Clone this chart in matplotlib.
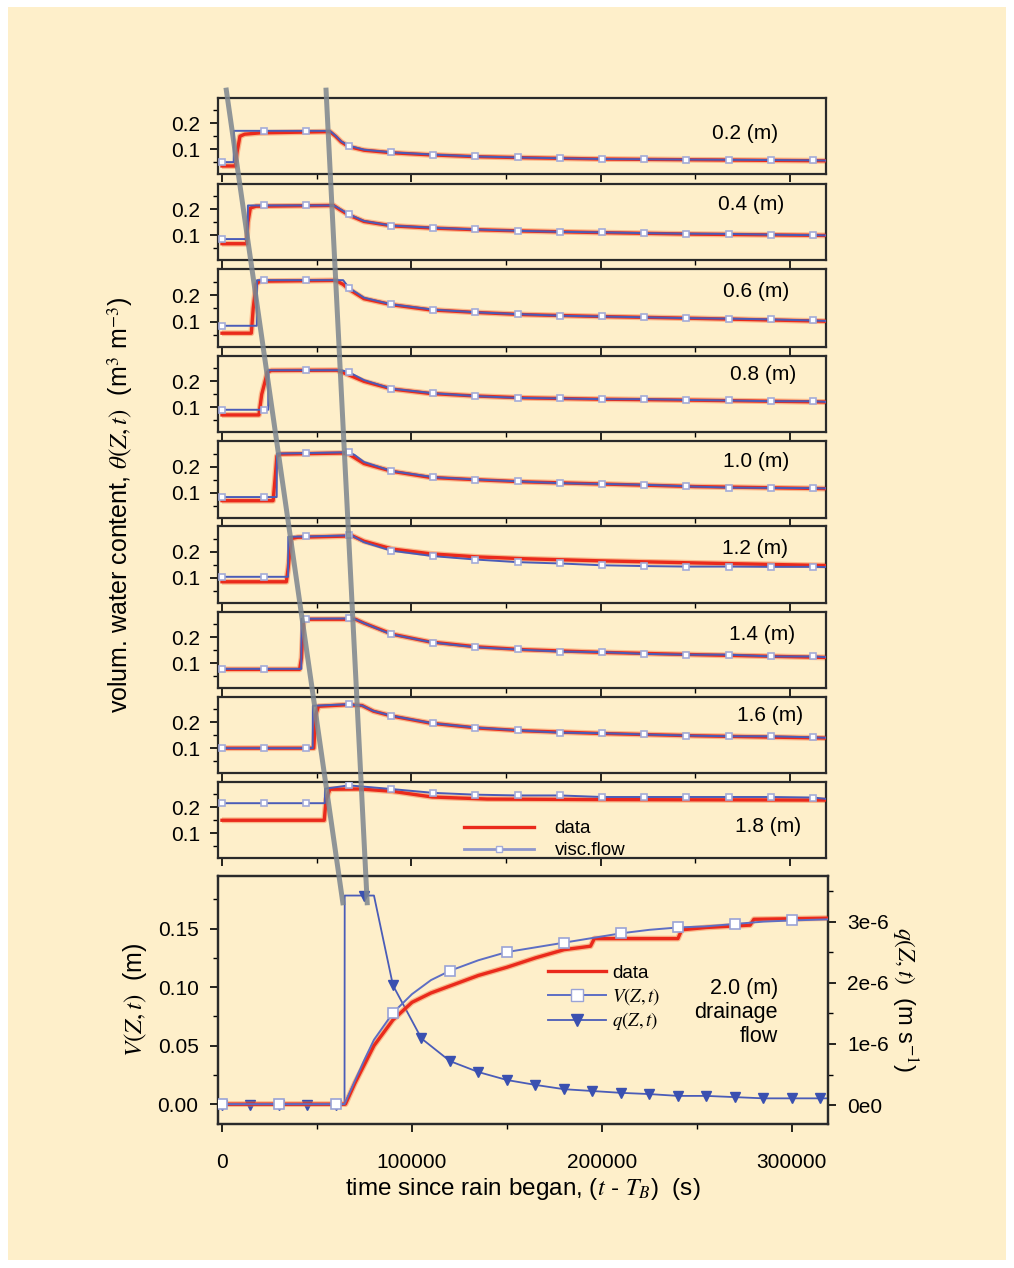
import matplotlib
matplotlib.use('Agg')
import matplotlib.pyplot as plt
from matplotlib.lines import Line2D
from matplotlib.patches import Rectangle
from matplotlib.ticker import MultipleLocator, FixedLocator, FuncFormatter

plt.rcParams['font.family'] = ['Liberation Sans', 'DejaVu Sans']
plt.rcParams['mathtext.fontset'] = 'stix'

# ---------------- data ----------------
depth_labels = ['0.2 (m)', '0.4 (m)', '0.6 (m)', '0.8 (m)', '1.0 (m)',
                '1.2 (m)', '1.4 (m)', '1.6 (m)', '1.8 (m)']

# times where the visc.flow markers sit
mark_t = [0, 22300, 44600, 66900, 89200, 111500, 133800, 156100, 178400,
          200700, 223000, 245300, 267600, 289900, 312200]

# visc.flow model, water content theta(Z,t)
model_t = [
    [0, 6200, 6300, 22300, 44600, 57000, 60000, 63000, 66900, 75000, 89200, 111500, 133800, 156100, 178400, 200700, 223000, 245300, 267600, 289900, 312200, 320000],
    [0, 13600, 13700, 22300, 44600, 59000, 62000, 66900, 75000, 89200, 111500, 133800, 156100, 178400, 200700, 223000, 245300, 267600, 289900, 312200, 320000],
    [0, 18400, 18500, 22300, 44600, 64000, 66900, 75000, 89200, 111500, 133800, 156100, 178400, 200700, 223000, 245300, 267600, 289900, 312200, 320000],
    [0, 22300, 24400, 24500, 44600, 63000, 66900, 75000, 89200, 111500, 133800, 156100, 178400, 200700, 223000, 245300, 267600, 289900, 312200, 320000],
    [0, 22300, 28900, 29000, 44600, 66900, 70000, 75000, 89200, 111500, 133800, 156100, 178400, 200700, 223000, 245300, 267600, 289900, 312200, 320000],
    [0, 22300, 34900, 35000, 44600, 66900, 69000, 75000, 89200, 111500, 133800, 156100, 178400, 200700, 223000, 245300, 267600, 289900, 312200, 320000],
    [0, 22300, 41900, 42000, 44600, 66900, 70500, 75000, 89200, 111500, 133800, 156100, 178400, 200700, 223000, 245300, 267600, 289900, 312200, 320000],
    [0, 22300, 44600, 47900, 48000, 66900, 74000, 80000, 89200, 111500, 133800, 156100, 178400, 200700, 223000, 245300, 267600, 289900, 312200, 320000],
    [0, 22300, 44600, 54300, 54400, 66900, 75000, 89200, 111500, 133800, 156100, 178400, 200700, 223000, 245300, 267600, 289900, 312200, 320000],
]
model_theta = [
    [0.050, 0.050, 0.171, 0.171, 0.171, 0.171, 0.152, 0.130, 0.114, 0.098, 0.088, 0.079, 0.072, 0.068, 0.065, 0.062, 0.061, 0.060, 0.059, 0.058, 0.057, 0.056],
    [0.085, 0.085, 0.215, 0.215, 0.215, 0.215, 0.203, 0.181, 0.155, 0.137, 0.129, 0.122, 0.117, 0.113, 0.111, 0.108, 0.106, 0.105, 0.102, 0.100, 0.099],
    [0.084, 0.084, 0.256, 0.256, 0.256, 0.256, 0.228, 0.190, 0.165, 0.145, 0.135, 0.128, 0.122, 0.119, 0.116, 0.113, 0.111, 0.108, 0.104, 0.102],
    [0.090, 0.090, 0.090, 0.243, 0.243, 0.243, 0.236, 0.205, 0.172, 0.154, 0.143, 0.136, 0.134, 0.131, 0.131, 0.128, 0.126, 0.123, 0.123, 0.120],
    [0.084, 0.084, 0.084, 0.250, 0.252, 0.255, 0.245, 0.218, 0.184, 0.160, 0.151, 0.144, 0.137, 0.134, 0.131, 0.125, 0.120, 0.119, 0.118, 0.117],
    [0.104, 0.104, 0.104, 0.257, 0.258, 0.262, 0.260, 0.236, 0.204, 0.183, 0.170, 0.160, 0.155, 0.148, 0.145, 0.143, 0.143, 0.142, 0.142, 0.141],
    [0.078, 0.078, 0.078, 0.272, 0.272, 0.273, 0.270, 0.255, 0.212, 0.180, 0.162, 0.153, 0.145, 0.143, 0.136, 0.133, 0.133, 0.126, 0.126, 0.123],
    [0.100, 0.100, 0.100, 0.100, 0.264, 0.270, 0.265, 0.244, 0.226, 0.196, 0.180, 0.169, 0.160, 0.158, 0.153, 0.149, 0.146, 0.146, 0.142, 0.140],
    [0.216, 0.216, 0.216, 0.216, 0.272, 0.285, 0.280, 0.271, 0.256, 0.249, 0.246, 0.246, 0.240, 0.240, 0.240, 0.240, 0.240, 0.238, 0.232],
]

# measured data, water content theta(Z,t)
data_t = [
    [0, 7000, 8000, 9500, 12000, 20000, 57000, 60000, 63000, 67000, 75000, 90000, 110000, 135000, 160000, 200000, 250000, 320000],
    [0, 13000, 13700, 15000, 18000, 59000, 62000, 67000, 75000, 90000, 110000, 135000, 160000, 200000, 250000, 320000],
    [0, 15500, 16500, 18000, 20000, 60000, 64000, 67000, 75000, 90000, 110000, 135000, 160000, 200000, 250000, 320000],
    [0, 19500, 21000, 24000, 26000, 60700, 66000, 75000, 90000, 110000, 135000, 160000, 200000, 250000, 320000],
    [0, 27000, 28000, 29000, 31000, 64000, 67000, 75000, 90000, 110000, 135000, 160000, 200000, 250000, 320000],
    [0, 34000, 35000, 36500, 40000, 69000, 75000, 90000, 110000, 135000, 160000, 200000, 250000, 320000],
    [0, 41000, 42000, 43000, 46000, 70500, 75000, 90000, 110000, 135000, 160000, 200000, 250000, 320000],
    [0, 48500, 49500, 51000, 66000, 74000, 80000, 90000, 110000, 135000, 160000, 200000, 250000, 320000],
    [0, 54000, 55000, 57000, 73000, 90000, 111000, 140000, 200000, 320000],
]
data_theta = [
    [0.035, 0.035, 0.090, 0.150, 0.158, 0.163, 0.168, 0.150, 0.128, 0.110, 0.096, 0.086, 0.078, 0.071, 0.067, 0.062, 0.059, 0.055],
    [0.067, 0.067, 0.150, 0.205, 0.212, 0.215, 0.200, 0.178, 0.153, 0.136, 0.128, 0.121, 0.116, 0.110, 0.104, 0.099],
    [0.056, 0.056, 0.150, 0.240, 0.252, 0.255, 0.240, 0.222, 0.186, 0.163, 0.144, 0.134, 0.126, 0.119, 0.112, 0.101],
    [0.070, 0.070, 0.150, 0.235, 0.242, 0.243, 0.228, 0.200, 0.170, 0.153, 0.143, 0.136, 0.131, 0.127, 0.120],
    [0.070, 0.070, 0.150, 0.240, 0.248, 0.252, 0.248, 0.212, 0.182, 0.159, 0.150, 0.142, 0.134, 0.124, 0.116],
    [0.085, 0.085, 0.140, 0.250, 0.255, 0.260, 0.240, 0.210, 0.192, 0.180, 0.173, 0.165, 0.157, 0.147],
    [0.076, 0.076, 0.120, 0.262, 0.270, 0.270, 0.255, 0.212, 0.182, 0.163, 0.152, 0.142, 0.133, 0.122],
    [0.100, 0.100, 0.230, 0.262, 0.268, 0.265, 0.243, 0.224, 0.197, 0.178, 0.167, 0.157, 0.148, 0.139],
    [0.150, 0.150, 0.230, 0.270, 0.271, 0.262, 0.240, 0.232, 0.230, 0.228],
]

# 2.0 m: cumulative drainage V(Z,t) and drainage flux q(Z,t)
v_model_t = [0, 30000, 60000, 64500, 70000, 75000, 80000, 90000, 100000, 110000, 120000, 135000, 150000,
             165000, 180000, 195000, 210000, 225000, 240000, 255000, 270000, 285000, 300000, 320000]
v_model = [0, 0, 0, 0, 0.020, 0.038, 0.055, 0.078, 0.094, 0.106, 0.114, 0.123, 0.130,
           0.134, 0.138, 0.142, 0.146, 0.149, 0.151, 0.152, 0.154, 0.156, 0.157, 0.158]
v_data_t = [0, 65000, 70000, 75000, 80000, 90000, 100000, 110000, 120000, 135000, 150000, 165000, 180000,
            194000, 196000, 240000, 242000, 255000, 278000, 280000, 320000]
v_data = [0, 0, 0.018, 0.034, 0.050, 0.072, 0.087, 0.095, 0.101, 0.110, 0.117, 0.125, 0.132,
          0.135, 0.1415, 0.1415, 0.149, 0.151, 0.153, 0.158, 0.159]
q_t = [0, 15000, 30000, 45000, 60000, 64500, 64600, 75000, 80000, 90000, 105000, 120000, 135000, 150000,
       165000, 180000, 195000, 210000, 225000, 240000, 255000, 270000, 285000, 300000, 315000, 320000]
q_flux = [0, 0, 0, 0, 0, 0, 3.43e-6, 3.43e-6, 3.43e-6, 1.96e-6, 1.09e-6, 0.72e-6, 0.54e-6, 0.41e-6,
          0.33e-6, 0.26e-6, 0.23e-6, 0.20e-6, 0.18e-6, 0.15e-6, 0.15e-6, 0.13e-6, 0.11e-6, 0.11e-6, 0.11e-6, 0.11e-6]

# grey front lines: (time at top of 0.2 m panel, time at top of drainage panel)
wetting_front_t = [2100, 63800]
drainage_front_t = [54900, 76500]

# ---------------- layout / style ----------------
W, H = 1014, 1268
cream = '#FEEFCA'
red = '#EA2A1C'
blue = '#4A5CB8'
mark_edge = '#A3ABD8'
x_left, x_right = 218, 826
panel_px = [(98, 174), (184, 260), (269, 347), (356, 432), (441, 518),
            (526, 603), (612, 688), (697, 773), (782, 858)]
bottom_px = (876, 1124)
label_pos = [(0.867, 0.53), (0.877, 0.73), (0.885, 0.71), (0.896, 0.76), (0.885, 0.73),
             (0.883, 0.71), (0.895, 0.70), (0.908, 0.76), (0.905, 0.41)]
xlim = (-2100, 319000)
fs = 15

fig = plt.figure(figsize=(W / 100, H / 100), dpi=100, facecolor='white')
fig.add_artist(Rectangle((8 / W, 8 / H), 1 - 16 / W, 1 - 15 / H, transform=fig.transFigure,
                         facecolor=cream, edgecolor='none', zorder=-10))


def add_ax(top, bot, right=x_right):
    return fig.add_axes([x_left / W, 1 - bot / H, (right - x_left) / W, (bot - top) / H])


def style_spines(ax):
    for s in ax.spines.values():
        s.set_linewidth(1.6)
        s.set_color('#2a2a2a')
    ax.set_facecolor('none')


axes = []
for i, (top, bot) in enumerate(panel_px):
    ax = add_ax(top, bot)
    style_spines(ax)
    ax.plot(data_t[i], data_theta[i], color='#F4773F', lw=4.2, alpha=0.45, solid_capstyle='butt', zorder=2)
    ax.plot(data_t[i], data_theta[i], color=red, lw=2.4, zorder=3)
    me = [j for j, t in enumerate(model_t[i]) if t in mark_t]
    ax.plot(model_t[i], model_theta[i], color=blue, lw=1.4, zorder=4,
            marker='s', markevery=me, ms=5, mfc='white', mec=mark_edge, mew=1.2)
    ax.set_xlim(*xlim)
    ax.set_ylim(0.004, 0.298)
    ax.yaxis.set_major_locator(FixedLocator([0.1, 0.2]))
    ax.yaxis.set_minor_locator(FixedLocator([0.05, 0.15, 0.25]))
    ax.yaxis.set_major_formatter(FuncFormatter(lambda v, p: f'{v:.1f}'))
    ax.xaxis.set_major_locator(MultipleLocator(100000))
    ax.xaxis.set_minor_locator(MultipleLocator(50000))
    ax.tick_params(axis='x', which='both', labelbottom=False, direction='out')
    ax.tick_params(which='major', length=6, width=1.2)
    ax.tick_params(which='minor', length=3.5, width=1.0)
    ax.tick_params(axis='y', which='both', direction='out', labelsize=fs, pad=7)
    ax.text(label_pos[i][0], label_pos[i][1], depth_labels[i], transform=ax.transAxes,
            ha='center', va='center', fontsize=fs)
    axes.append(ax)

# legend in the 1.8 m panel
h_data = Line2D([], [], color=red, lw=2.4)
h_visc = Line2D([], [], color='#8F97CC', lw=2.0, marker='s', ms=5, mfc='white', mec=mark_edge)
axes[-1].legend([h_data, h_visc], ['data', 'visc.flow'], loc='upper left',
                bbox_to_anchor=(0.39, 0.62), frameon=False, fontsize=13.5,
                handlelength=3.7, handletextpad=1.1, labelspacing=0.25, borderpad=0)

# drainage panel
axb = add_ax(*bottom_px, right=828)
style_spines(axb)
axq = axb.twinx()
style_spines(axq)
axq.plot(q_t, q_flux, color=blue, lw=1.3, zorder=3, marker='v', ms=7.5,
         markevery=[j for j, t in enumerate(q_t) if t % 15000 == 0 and t <= 315000],
         mfc='#3A50B0', mec='#3A50B0')
axq.set_ylim(-0.31e-6, 3.75e-6)
axq.yaxis.set_major_locator(FixedLocator([0, 1e-6, 2e-6, 3e-6]))
axq.yaxis.set_minor_locator(FixedLocator([0.5e-6, 1.5e-6, 2.5e-6, 3.5e-6]))
axq.yaxis.set_major_formatter(FuncFormatter(lambda v, p: f'{round(v * 1e6):d}e' + ('0' if round(v * 1e6) == 0 else '-6')))
axq.tick_params(axis='y', which='both', direction='out', labelsize=fs, pad=8)
axq.tick_params(which='major', length=6, width=1.2)
axq.tick_params(which='minor', length=3.5, width=1.0)
axq.set_ylabel('$q(Z,t)$  (m s$^{-1}$)', fontsize=fs + 2, rotation=270, labelpad=22)

axb.set_zorder(axq.get_zorder() + 1)
axb.plot(v_data_t, v_data, color='#F4773F', lw=4.2, alpha=0.45, zorder=2)
axb.plot(v_data_t, v_data, color=red, lw=2.4, zorder=3)
axb.plot(v_model_t, v_model, color='#5D6EC4', lw=1.4, zorder=4, marker='s', ms=7,
         markevery=[j for j, t in enumerate(v_model_t) if t % 30000 == 0],
         mfc='white', mec='#9AA3D6', mew=1.2)
axb.set_xlim(*xlim)
axb.set_ylim(-0.017, 0.195)
axb.yaxis.set_major_locator(MultipleLocator(0.05))
axb.yaxis.set_minor_locator(MultipleLocator(0.025))
axb.yaxis.set_major_formatter(FuncFormatter(lambda v, p: f'{v:.2f}'))
axb.xaxis.set_major_locator(MultipleLocator(100000))
axb.xaxis.set_minor_locator(MultipleLocator(50000))
axb.xaxis.set_major_formatter(FuncFormatter(lambda v, p: f'{int(v)}'))
axb.tick_params(which='both', direction='out', labelsize=fs)
axb.tick_params(axis='x', pad=15)
axb.tick_params(axis='y', pad=8)
axb.tick_params(which='major', length=6, width=1.2)
axb.tick_params(which='minor', length=3.5, width=1.0)
axb.set_ylabel('$V(Z,t)$  (m)', fontsize=fs + 3, labelpad=6)
axb.set_xlabel('time since rain began, ($t$ - $T_B$)  (s)', fontsize=fs + 2.5, labelpad=3)

h_v = Line2D([], [], color='#5D6EC4', lw=1.4, marker='s', ms=8, mfc='white', mec='#9AA3D6')
h_q = Line2D([], [], color=blue, lw=1.3, marker='v', ms=8, mfc='#3A50B0', mec='#3A50B0')
axb.legend([h_data, h_v, h_q], ['data', '$V(Z,t)$', '$q(Z,t)$'], loc='upper left',
           bbox_to_anchor=(0.525, 0.68), frameon=False, fontsize=13.5,
           handlelength=3.1, handletextpad=0.35, labelspacing=0.2, borderpad=0)
axb.text(0.918, 0.45, '2.0 (m)\ndrainage\nflow', transform=axb.transAxes, ha='right', va='center',
         multialignment='right', fontsize=fs + 0.5, linespacing=1.2)

# theta axis label spanning the small panels
fig.text(120 / W, 1 - 505 / H, r'volum. water content, $\theta(Z,t)$  (m$^3$ m$^{-3}$)',
         rotation=90, ha='center', va='center', fontsize=fs + 3)

# grey fronts drawn from the top panel to the drainage panel
inv = fig.transFigure.inverted()
for ft in (wetting_front_t, drainage_front_t):
    p0 = inv.transform(axes[0].transData.transform((ft[0], 0.338)))
    p1 = inv.transform(axb.transData.transform((ft[1], 0.170)))
    fig.add_artist(Line2D([p0[0], p1[0]], [p0[1], p1[1]], transform=fig.transFigure,
                          color='#7D868F', lw=3.6, alpha=0.85, solid_capstyle='butt', zorder=20))

fig.savefig('out.png', dpi=100, facecolor='white')
